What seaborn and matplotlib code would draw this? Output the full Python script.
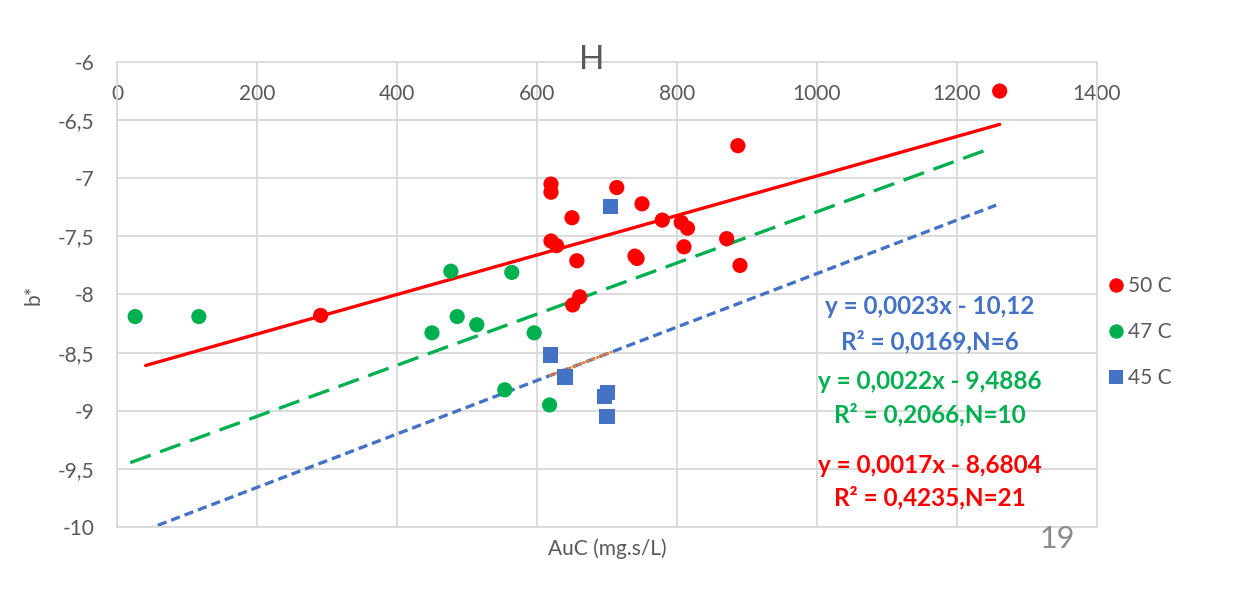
import matplotlib
matplotlib.use("Agg")
import matplotlib.pyplot as plt
import pandas as pd
import seaborn as sns
import numpy as np
from matplotlib.ticker import FuncFormatter

# Data
red_x = [1261, 887, 620, 620, 714, 750, 650, 779, 806, 815, 620,
         628, 740, 743, 810, 871, 657, 890, 661, 651, 291]
red_y = [-6.25, -6.72, -7.05, -7.12, -7.08, -7.22, -7.34, -7.36, -7.38, -7.43, -7.54,
         -7.58, -7.67, -7.69, -7.59, -7.52, -7.71, -7.75, -8.02, -8.09, -8.18]
green_x = [26, 117, 450, 477, 486, 514, 564, 596, 554, 618]
green_y = [-8.19, -8.19, -8.33, -7.80, -8.19, -8.26, -7.81, -8.33, -8.82, -8.95]
blue_x = [705, 619, 640, 701, 696, 700]
blue_y = [-7.24, -8.52, -8.71, -8.84, -8.88, -9.05]

groups = ["50 C", "47 C", "45 C"]
colors = {"50 C": "#FF0000", "47 C": "#00B050", "45 C": "#4472C4"}

# trendline equations shown on the chart
slopes = {"50 C": 0.0017, "47 C": 0.0022, "45 C": 0.0023}
intercepts = {"50 C": -8.6804, "47 C": -9.4886, "45 C": -10.12}
line_range = {"50 C": [41, 1261], "47 C": [19, 1240], "45 C": [20, 1256]}
blue_fit_range = [619, 706]
eq_text = {
    "45 C": ["y = 0,0023x - 10,12", "R² = 0,0169,N=6"],
    "47 C": ["y = 0,0022x - 9,4886", "R² = 0,2066,N=10"],
    "50 C": ["y = 0,0017x - 8,6804", "R² = 0,4235,N=21"],
}

df = pd.DataFrame({
    "AuC": red_x + green_x + blue_x,
    "b": red_y + green_y + blue_y,
    "group": ["50 C"] * len(red_x) + ["47 C"] * len(green_x) + ["45 C"] * len(blue_x),
})

sns.set_theme(style="white")
plt.rcParams["font.family"] = ["Lato", "DejaVu Sans"]

fig = plt.figure(figsize=(12.55, 6.06), dpi=100)
ax = fig.add_axes([0.0932, 0.1304, 0.7809, 0.7673])

# trendlines
styles = {"50 C": "-", "47 C": (0, (6.5, 3)), "45 C": (0, (2.8, 1.5))}
for g in groups:
    xs = np.array(line_range[g])
    ax.plot(xs, slopes[g] * xs + intercepts[g], color=colors[g], lw=2.4,
            linestyle=styles[g], zorder=2)
xs = np.array(blue_fit_range)
ax.plot(xs, slopes["45 C"] * xs + intercepts["45 C"], color="#ED7D31", lw=2,
        linestyle=(0, (0.6, 1.2)), dash_capstyle="round", zorder=2.5)

sns.scatterplot(data=df, x="AuC", y="b", hue="group", style="group",
                hue_order=groups, style_order=groups, palette=colors,
                markers={"50 C": "o", "47 C": "o", "45 C": "s"},
                s=120, linewidth=0, ax=ax, zorder=3)

ax.set_xlim(0, 1400)
ax.set_ylim(-10, -6)
ax.set_xticks(np.arange(0, 1401, 200))
ax.set_yticks(np.arange(-10, -5.99, 0.5))
ax.yaxis.set_major_formatter(FuncFormatter(lambda v, p: f"{v:g}".replace(".", ",")))
ax.grid(True, color="#D9D9D9", lw=1.3)
for sp in ax.spines.values():
    sp.set_color("#D9D9D9")
    sp.set_linewidth(1.3)

ax.tick_params(axis="x", top=False, bottom=False, labeltop=True, labelbottom=False,
               length=0, pad=-30, labelsize=15, labelcolor="#595959")
ax.tick_params(axis="y", left=False, length=0, pad=16, labelsize=15, labelcolor="#595959")

ax.set_xlabel("AuC (mg.s/L)", fontsize=15, color="#595959", labelpad=8)
ax.set_ylabel("b*", fontsize=15, color="#595959")
ax.yaxis.set_label_coords(-0.075, 0.5)

# equations
eq_y = {"45 C": [-8.105, -8.406], "47 C": [-8.75, -9.03], "50 C": [-9.467, -9.75]}
for g in groups:
    for txt, yy in zip(eq_text[g], eq_y[g]):
        ax.text(1161, yy, txt, ha="center", va="center", fontsize=17.5,
                fontweight="bold", color=colors[g], zorder=4)

ax.legend(title=None, frameon=False, loc="center left",
          bbox_to_anchor=(0.8845, 0.452), bbox_transform=fig.transFigure,
          fontsize=15, labelspacing=1.25, handletextpad=0.25, handlelength=0.6,
          borderpad=0, borderaxespad=0, markerscale=0.95, labelcolor="#595959")

fig.text(592 / 1255, 1 - 60 / 606, "H", ha="center", va="center", fontsize=24, color="#595959")
fig.text(1057 / 1255, 1 - 539 / 606, "19", ha="center", va="center", fontsize=22, color="#8C8C8C")

fig.savefig("out.png", dpi=100)
